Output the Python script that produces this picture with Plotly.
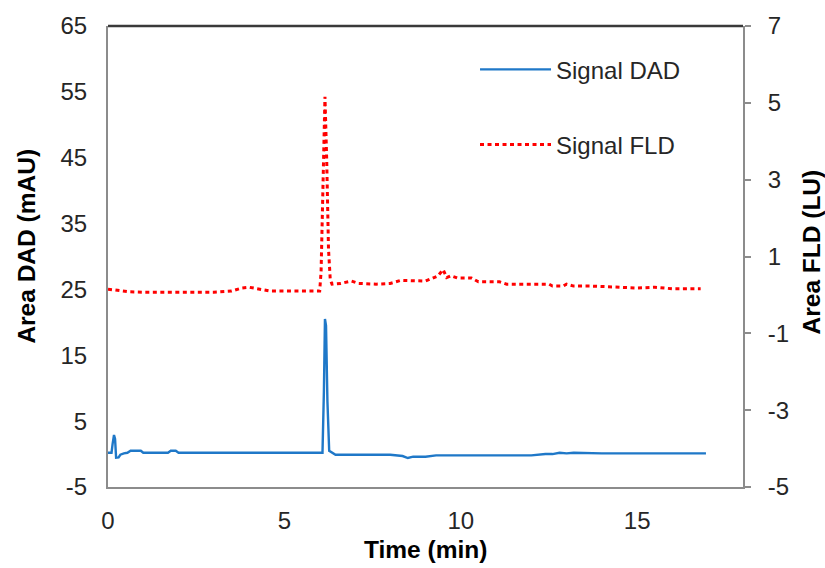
import plotly.graph_objects as go

# ---- data ----
dad_time = [0, 0.1, 0.13, 0.17, 0.2, 0.21, 0.23, 0.3, 0.35, 0.45, 0.55, 0.64, 0.8, 0.93, 1.0, 1.05, 1.2, 1.7, 1.78, 1.92, 2.0,
            3.0, 4.0, 5.0, 6.08, 6.12, 6.15, 6.18, 6.22, 6.27, 6.35, 6.45, 7.0, 8.0, 8.35, 8.5, 8.65, 9.0, 9.3, 10.0,
            11.0, 12.0, 12.4, 12.6, 12.8, 13.0, 13.2, 14.0, 15.0, 16.0, 16.95]
dad_signal = [0.2, 0.2, 1.5, 2.9, 2.3, 1.0, -0.55, -0.5, -0.1, 0.1, 0.2, 0.5, 0.5, 0.5, 0.2, 0.2, 0.2, 0.2, 0.5, 0.5, 0.2,
              0.2, 0.2, 0.2, 0.2, 9.5, 20.5, 19.5, 8.0, 0.5, 0.2, -0.1, -0.1, -0.1, -0.3, -0.6, -0.4, -0.4, -0.2, -0.2,
              -0.2, -0.2, 0.0, 0.0, 0.2, 0.1, 0.2, 0.1, 0.1, 0.1, 0.1]

fld_time = [0, 0.3, 0.6, 1.0, 2.0, 3.0, 3.5, 3.8, 4.0, 4.3, 4.6, 5.0, 5.5, 6.0, 6.04, 6.08, 6.12, 6.15, 6.2, 6.25, 6.3, 6.35,
            6.6, 6.9, 7.1, 7.6, 8.0, 8.3, 9.0, 9.2, 9.35, 9.5, 9.6, 9.72, 9.9, 10.3, 10.5, 11.1, 11.3, 12.5, 12.6,
            12.9, 13.0, 13.2, 13.7, 14.5, 15.0, 15.5, 16.0, 16.8]
fld_signal = [0.15, 0.12, 0.08, 0.07, 0.07, 0.07, 0.1, 0.18, 0.2, 0.15, 0.1, 0.1, 0.1, 0.1, 0.6, 2.5, 4.5, 5.16, 3.5, 1.2, 0.4, 0.28,
              0.3, 0.36, 0.3, 0.28, 0.3, 0.38, 0.36, 0.44, 0.49, 0.66, 0.45, 0.5, 0.44, 0.44, 0.34, 0.34, 0.28, 0.28, 0.23,
              0.23, 0.28, 0.23, 0.23, 0.2, 0.18, 0.2, 0.16, 0.16]

x_ticks = [0, 5, 10, 15]
left_ticks = [-5, 5, 15, 25, 35, 45, 55, 65]
left_labels = ["-5", "5", "15", "25", "35", "45", "55", "65"]
right_ticks = [-5, -3, -1, 1, 3, 5, 7]
right_labels = ["-5", "-3", "-1", "1", "3", "5", "7"]

FONT = "Liberation Sans, Arial, sans-serif"
TICKCOL = "#262626"
FS = 24
TFS = 24.5

fig = go.Figure()
fig.add_trace(go.Scatter(x=dad_time, y=dad_signal, mode="lines", name="Signal DAD",
                         line=dict(color="#1f78c8", width=2.4), yaxis="y", legend="legend"))
fig.add_trace(go.Scatter(x=fld_time, y=fld_signal, mode="lines", name="Signal FLD",
                         line=dict(color="#ff0000", width=3, dash="4px,3.5px"), yaxis="y2", legend="legend2"))

fig.update_layout(
    width=825, height=568,
    margin=dict(l=108, r=82, t=26, b=81),
    paper_bgcolor="white", plot_bgcolor="white",
    showlegend=True,
    font=dict(family=FONT, size=FS, color=TICKCOL),
    xaxis=dict(range=[0, 18], tickvals=x_ticks, showgrid=False, zeroline=False, automargin=False,
               showline=True, linecolor="#8c8c8c", linewidth=2, ticks="",
               ticklabelstandoff=11,
               tickfont=dict(size=FS, color=TICKCOL)),
    yaxis=dict(range=[-5, 65], tickvals=left_ticks, ticktext=left_labels, showgrid=False, zeroline=False,
               automargin=False, showline=True, linecolor="#8c8c8c", linewidth=2, ticks="",
               ticklabelstandoff=14,
               tickfont=dict(size=FS, color=TICKCOL)),
    yaxis2=dict(range=[-5, 7], tickvals=right_ticks, ticktext=right_labels, overlaying="y", side="right",
                automargin=False, showgrid=False, zeroline=False, showline=True, linecolor="#8c8c8c", linewidth=2,
                ticks="outside", ticklen=6, tickwidth=1.5, tickcolor="#8c8c8c",
                ticklabelstandoff=12,
                tickfont=dict(size=FS, color=TICKCOL)),
    legend=dict(x=0.578, y=0.905, xanchor="left", yanchor="middle", bgcolor="rgba(0,0,0,0)",
                font=dict(size=FS, color=TICKCOL), itemwidth=71),
    legend2=dict(x=0.578, y=0.742, xanchor="left", yanchor="middle", bgcolor="rgba(0,0,0,0)",
                 font=dict(size=FS, color=TICKCOL), itemwidth=71),
    shapes=[dict(type="line", xref="paper", yref="paper", x0=0, x1=1, y0=1, y1=1,
                 line=dict(color="#3a3a3a", width=2.5))],
    annotations=[
        dict(text="<b>Time (min)</b>", xref="paper", yref="paper", x=0.5, y=-0.135,
             xanchor="center", yanchor="middle", showarrow=False, font=dict(size=TFS, color="#000")),
        dict(text="<b>Area DAD (mAU)</b>", xref="paper", yref="paper", x=-0.128, y=0.523,
             xanchor="center", yanchor="middle", textangle=-90, showarrow=False,
             font=dict(size=TFS, color="#000")),
        dict(text="<b>Area FLD (LU)</b>", xref="paper", yref="paper", x=1.108, y=0.51,
             xanchor="center", yanchor="middle", textangle=-90, showarrow=False,
             font=dict(size=TFS, color="#000")),
    ],
)

# remove the browser's default 8px body margin so the figure sits at the window origin
fig.write_html("out.html",
               config={"displayModeBar": False},
               post_script="document.body.style.margin='0';document.body.style.overflow='hidden';")
